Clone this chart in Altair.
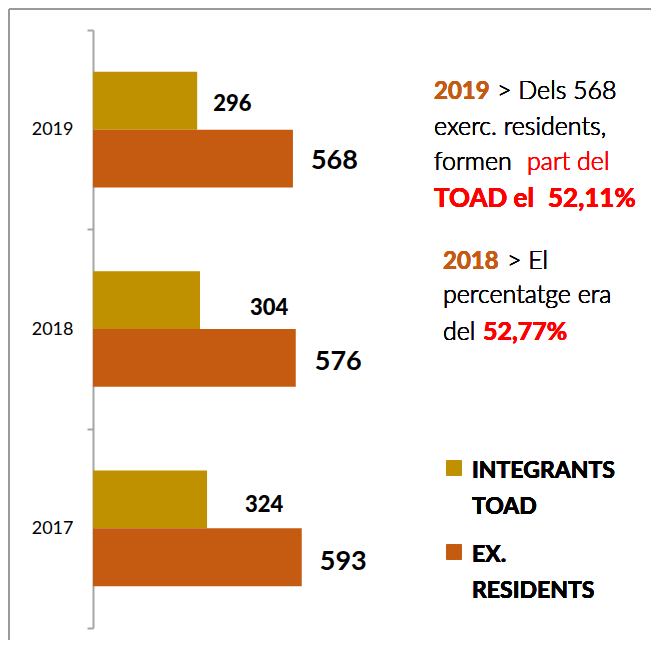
import altair as alt
import pandas as pd

years = ["2019", "2018", "2017"]
integrants = [296, 304, 324]
ex_residents = [568, 576, 593]
series = ["INTEGRANTS TOAD", "EX. RESIDENTS"]
legend_lines = [["INTEGRANTS", "TOAD"], ["EX.", "RESIDENTS"]]
colors = ["#BF9000", "#C55A11"]

rows = []
for i, y in enumerate(years):
    rows.append({"year": y, "series": series[0], "value": integrants[i]})
    rows.append({"year": y, "series": series[1], "value": ex_residents[i]})
df = pd.DataFrame(rows)

FONT = "Lato"
W, H = 352, 598

y_enc = alt.Y("year:N", sort=years,
              scale=alt.Scale(paddingInner=0, paddingOuter=0),
              axis=alt.Axis(title=None, domainColor="#a6a6a6", domainWidth=2,
                            tickColor="#a6a6a6", tickWidth=2, tickSize=6,
                            tickBand="extent", labelFont=FONT, labelFontSize=18,
                            labelColor="black", labelPadding=14, labelAngle=0))
yoff = alt.YOffset("series:N", sort=series,
                   scale=alt.Scale(paddingInner=0, paddingOuter=0.724))
x_enc = alt.X("value:Q", scale=alt.Scale(domain=[0, 1000]), axis=None)
col = alt.Color("series:N", scale=alt.Scale(domain=series, range=colors), legend=None)

base = alt.Chart(df)
bars = base.mark_bar().encode(y=y_enc, yOffset=yoff, x=x_enc, color=col)

layers = [bars]
# value labels (per-year nudges as in the reference slide)
gold_dx = {"2019": 16, "2018": 50, "2017": 38}
gold_dy = {"2019": 3, "2018": 8, "2017": 6}
red_dx = {"2019": 18, "2018": 19, "2017": 18}
red_dy = {"2019": 2, "2018": 4, "2017": 5}
for yv in years:
    layers.append(base.transform_filter(
        (alt.datum.year == yv) & (alt.datum.series == series[0])
    ).mark_text(align="left", baseline="middle", font=FONT, fontWeight=900,
                fontSize=22, color="black", dx=gold_dx[yv], dy=gold_dy[yv]
    ).encode(y=alt.Y("year:N", sort=years), yOffset=yoff, x=x_enc, text="value:Q"))
    layers.append(base.transform_filter(
        (alt.datum.year == yv) & (alt.datum.series == series[1])
    ).mark_text(align="left", baseline="middle", font=FONT, fontWeight="bold",
                fontSize=27, color="black", dx=red_dx[yv], dy=red_dy[yv]
    ).encode(y=alt.Y("year:N", sort=years), yOffset=yoff, x=x_enc, text="value:Q"))

OX, OY = 93, 30  # page coords of plot origin


def txt(s, px, py, color="black", size=25, weight=300):
    return alt.Chart(df).mark_text(align="left", baseline="alphabetic", font=FONT,
                                   fontSize=size, fontWeight=weight, color=color).encode(
        x=alt.value(px - OX), y=alt.value(py - OY), text=alt.value(s))

ORANGE_T = "#C55A11"
RED = "#FF0000"
layers += [
    txt("2019", 434, 99, ORANGE_T, 24, "bold"),
    txt("> Dels 568", 497, 99),
    txt("exerc. residents,", 434, 135),
    txt("formen", 434, 170),
    txt("part del", 527, 170, RED),
    txt("TOAD el", 434, 207, RED, 26, "bold"),
    txt("52,11%", 548, 207, RED, 26, "bold"),
    txt("2018", 443, 269, ORANGE_T, 24, "bold"),
    txt("> El", 507, 269),
    txt("percentatge era", 443, 303),
    txt("del", 443, 340),
    txt("52,77%", 483, 340, RED, 25, "bold"),
]

# legend
sq_y = [468, 552]
line_base = [[478, 514], [562, 598]]
for k in range(2):
    layers.append(alt.Chart(df).mark_square(size=225, color=colors[k], opacity=1).encode(
        x=alt.value(454 - OX), y=alt.value(sq_y[k] - OY)))
    for j, s in enumerate(legend_lines[k]):
        layers.append(txt(s, 472, line_base[k][j], "black", 23, "bold"))

# slide frame edges
layers.append(alt.Chart(df).mark_rule(color="#9a9a9a", strokeWidth=2).encode(
    x=alt.value(9 - OX), x2=alt.value(9 - OX), y=alt.value(9 - OY), y2=alt.value(648 - OY)))
layers.append(alt.Chart(df).mark_rule(color="#9a9a9a", strokeWidth=2).encode(
    x=alt.value(9 - OX), x2=alt.value(651 - OX), y=alt.value(9 - OY), y2=alt.value(9 - OY)))

chart = alt.layer(*layers).properties(
    width=W, height=H,
    autosize=alt.AutoSizeParams(type="none"),
    padding={"left": 85, "top": 22, "right": 643 - 85 - W, "bottom": 632 - 22 - H},
).configure(background="white").configure_view(stroke=None)

chart.save("out.html", embed_options={"renderer": "svg", "actions": False})
